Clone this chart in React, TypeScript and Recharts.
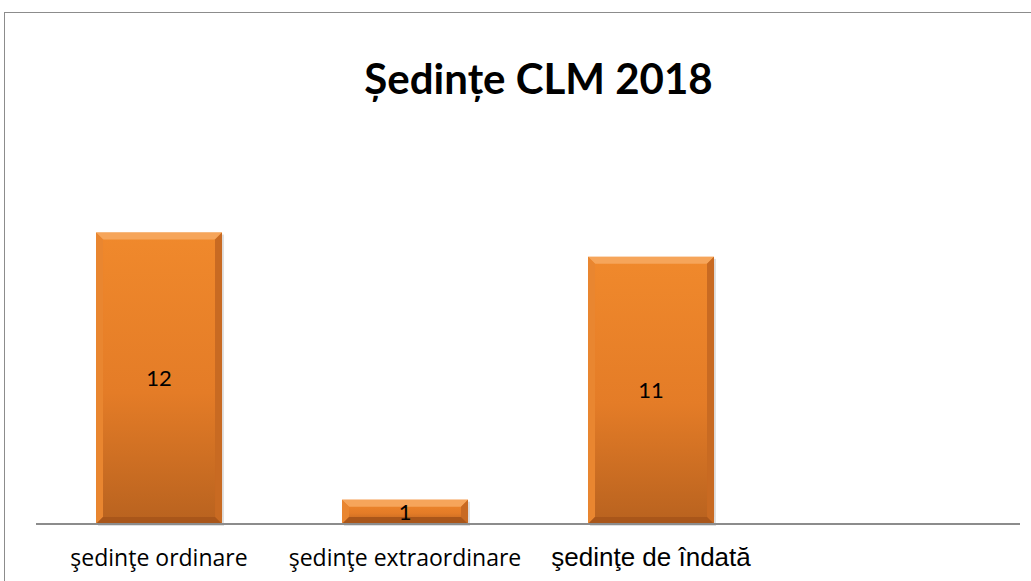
import { Bar, BarChart, LabelList, XAxis, YAxis } from "recharts";

const categories = ["şedinţe ordinare", "şedinţe extraordinare", "şedinţe de îndată", ""];
const counts = [12, 1, 11, null];
const tickFonts = ["Open Sans", "Open Sans", "Liberation Sans", "Open Sans"];
const tickSizes = [23, 23, 26, 23];

const data = categories.map((name, i) => ({ name, value: counts[i] }));

function BevelBar(props: any) {
  const { x, y, width, height } = props;
  if (!height || height <= 0) return null;
  const b = Math.min(7, height / 3);
  return (
    <g>
      <rect x={x + 2} y={y + 2} width={width} height={height} fill="#000" opacity={0.12} />
      <rect x={x} y={y} width={width} height={height} fill="url(#barFill)" />
      <polygon points={`${x},${y} ${x + width},${y} ${x + width - b},${y + b} ${x + b},${y + b}`} fill="#f6a55a" />
      <polygon points={`${x},${y} ${x + b},${y + b} ${x + b},${y + height - b} ${x},${y + height}`} fill="#e98630" />
      <polygon points={`${x + width},${y} ${x + width},${y + height} ${x + width - b},${y + height - b} ${x + width - b},${y + b}`} fill="#c86a22" />
      <polygon points={`${x},${y + height} ${x + width},${y + height} ${x + width - b},${y + height - b} ${x + b},${y + height - b}`} fill="#a9561a" />
    </g>
  );
}

function Tick(props: any) {
  const { x, y, payload, index } = props;
  return (
    <text x={x} y={y} dy={34} textAnchor="middle" fontSize={tickSizes[index] ?? 23} fontFamily={tickFonts[index] ?? "Open Sans"} fill="#000">
      {payload.value}
    </text>
  );
}

export default function App() {
  return (
    <div style={{ position: "absolute", left: 0, top: 0, width: 1031, height: 581, overflow: "hidden", background: "#fff" }}>
      <div style={{ position: "absolute", left: 4, top: 12, width: 1100, height: 700, border: "1px solid #8c8c8c" }} />
      <div
        style={{
          position: "absolute",
          left: 46,
          top: 53,
          width: 985,
          textAlign: "center",
          fontFamily: "Lato, 'Open Sans', sans-serif",
          fontWeight: 700,
          fontSize: 42,
          lineHeight: 1.2,
          color: "#000",
        }}
      >
        Ședințe CLM 2018
      </div>
      <div style={{ position: "absolute", left: 0, top: 0 }}>
        <BarChart width={1031} height={581} data={data} margin={{ top: 184, right: 11, left: 36, bottom: 27 }} barCategoryGap="24.4%">
          <defs>
            <linearGradient id="barFill" x1="0" y1="0" x2="0" y2="1">
              <stop offset="0%" stopColor="#f0892c" />
              <stop offset="55%" stopColor="#e47c27" />
              <stop offset="100%" stopColor="#b8621f" />
            </linearGradient>
          </defs>
          <XAxis dataKey="name" axisLine={{ stroke: "#8c8c8c", strokeWidth: 2 }} tickLine={false} tick={<Tick />} interval={0} />
          <YAxis hide domain={[0, 14]} />
          <Bar dataKey="value" shape={<BevelBar />} isAnimationActive={false}>
            <LabelList dataKey="value" position="center" fontSize={22} fontFamily="Lato" fill="#000" />
          </Bar>
        </BarChart>
      </div>
    </div>
  );
}
